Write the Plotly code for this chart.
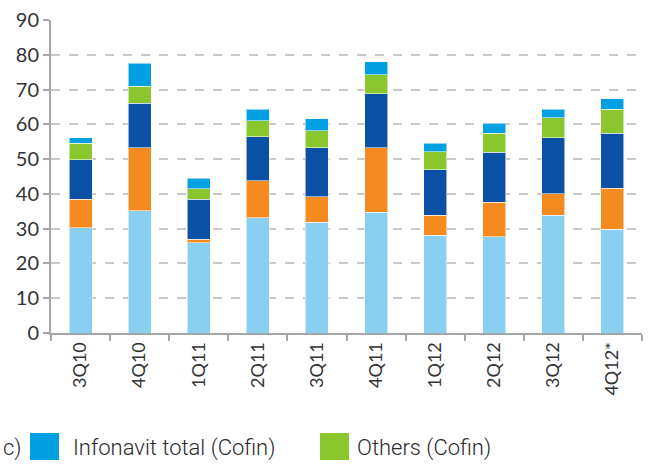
import plotly.graph_objects as go

categories = ["3Q10", "4Q10", "1Q11", "2Q11", "3Q11", "4Q11", "1Q12", "2Q12", "3Q12", "4Q12*"]

infonavit = [30.2, 35.1, 26.0, 33.1, 31.8, 34.7, 28.1, 27.7, 33.9, 29.8]
fovissste = [8.3, 18.2, 0.9, 10.7, 7.4, 18.6, 5.8, 9.9, 6.2, 11.8]
banks = [11.3, 12.7, 11.5, 12.7, 14.1, 15.5, 13.1, 14.4, 16.1, 15.8]
others_cofin = [4.8, 5.0, 3.1, 4.6, 4.9, 5.5, 5.1, 5.5, 5.7, 7.0]
infonavit_total_cofin = [1.5, 6.6, 3.0, 3.3, 3.4, 3.7, 2.5, 2.8, 2.5, 2.9]

y_ticks = [0, 10, 20, 30, 40, 50, 60, 70, 80, 90]

series = [
    ("Infonavit", infonavit, "#89CFF1"),
    ("Fovissste", fovissste, "#F58A1F"),
    ("Banks", banks, "#0A50A5"),
    ("Others (Cofin)", others_cofin, "#8AC72E"),
    ("Infonavit total (Cofin)", infonavit_total_cofin, "#00A0E3"),
]

fig = go.Figure()
for name, vals, col in series:
    fig.add_trace(go.Bar(
        x=categories, y=vals, name=name,
        marker=dict(color=col, line=dict(color="rgba(255,255,255,0.55)", width=1)),
        showlegend=False,
    ))

W, H = 654, 468
L, R, T, B = 51, 12, 20, 135
pw, ph = W - L - R, H - T - B

def px_x(x):
    return (x - L) / pw

def px_y(y):
    return (H - B - y) / ph

LEG_FONT = dict(family="Roboto, Liberation Sans Narrow, sans-serif", size=22, color="#2a2a2a", weight=300)

legend_items = [
    ("Infonavit total (Cofin)", "#00A0E3", 30, 59, 71),
    ("Others (Cofin)", "#8AC72E", 320, 349, 355),
]
shapes = []
annotations = []
for text, col, x0, x1, tx in legend_items:
    shapes.append(dict(type="rect", xref="paper", yref="paper",
                       x0=px_x(x0), x1=px_x(x1), y0=px_y(460), y1=px_y(433),
                       fillcolor=col, line=dict(width=0)))
    annotations.append(dict(text=text, xref="paper", yref="paper",
                            x=px_x(tx), y=px_y(448), xanchor="left", yanchor="middle",
                            showarrow=False, font=LEG_FONT))
annotations.append(dict(text="c)", xref="paper", yref="paper",
                        x=px_x(1), y=px_y(448), xanchor="left", yanchor="middle",
                        showarrow=False, font=LEG_FONT))

fig.update_layout(
    barmode="stack",
    bargap=0.61,
    width=W, height=H,
    margin=dict(l=L, r=R, t=T, b=B, pad=0, autoexpand=False),
    paper_bgcolor="white", plot_bgcolor="white",
    shapes=shapes, annotations=annotations,
    xaxis=dict(
        type="category", range=[-0.5, 9.5], automargin=False,
        tickangle=-90, tickson="boundaries",
        ticks="outside", ticklen=6, tickcolor="#A6A6A6", tickwidth=1.5,
        showline=True, linecolor="#A6A6A6", linewidth=2,
        tickfont=dict(family="Lato, sans-serif", size=18, color="#333333"),
        showgrid=False,
    ),
    yaxis=dict(
        range=[0, 90], tickvals=y_ticks, automargin=False,
        ticks="outside", ticklen=6, tickcolor="#A6A6A6", tickwidth=1.5,
        showline=True, linecolor="#A6A6A6", linewidth=2,
        showgrid=True, gridcolor="#C8C8C8", griddash="dash", gridwidth=1.5,
        tickfont=dict(family="Lato, sans-serif", size=20, color="#333333"),
        zeroline=False,
    ),
)

fig.write_html("out.html", config={"displayModeBar": False},
               post_script="document.body.style.margin='0';document.body.style.padding='0';")
